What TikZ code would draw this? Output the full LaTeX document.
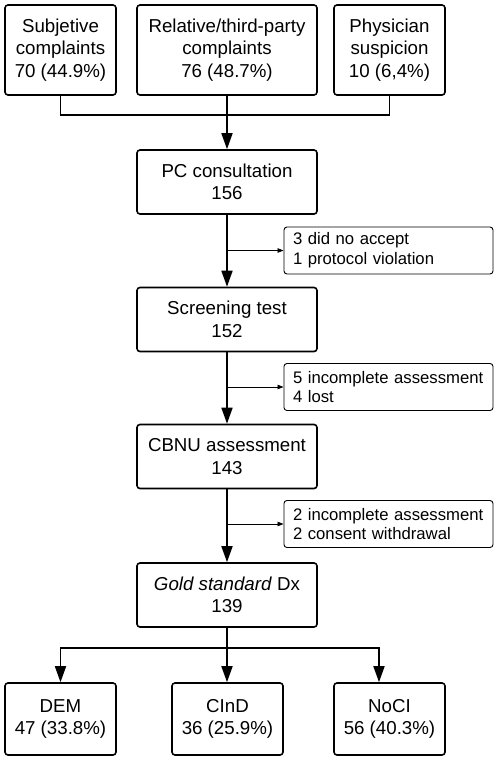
\documentclass[tikz,border=0pt]{standalone}
\usepackage{fontspec}
\setmainfont{Liberation Sans}
\usetikzlibrary{arrows.meta}

\begin{document}
\begin{tikzpicture}[x=1pt,y=-1pt,
	box/.style={draw, rounded corners=3pt, line width=1.6pt, align=center, inner sep=0pt,
		font=\fontsize{18.7}{22.5}\selectfont},
	exbox/.style={draw, rounded corners=3pt, line width=0.9pt, align=left, inner xsep=9pt, inner ysep=0pt,
		text width=191pt, minimum height=47pt, font=\fontsize{16.7}{19.8}\selectfont},
	arrow/.style={line width=1.7pt, -{Triangle[length=16pt,width=11pt]}},
	side/.style={line width=0.8pt, -{Triangle[length=6pt,width=4.5pt]}}]
\useasboundingbox (0,0) rectangle (498,761);
\node [box, minimum width=111pt, minimum height=90pt] (subj) at (60.5,50) {Subjetive\\complaints\\70 (44.9\%)};
\node [box, minimum width=180pt, minimum height=90pt] (rel) at (227,50) {Relative/third-party\\complaints\\76 (48.7\%)};
\node [box, minimum width=111pt, minimum height=90pt] (phys) at (389.5,50) {Physician\\suspicion\\10 (6,4\%)};
\node [box, minimum width=180pt, minimum height=64pt] (pc) at (227,182) {PC consultation\\156};
\node [box, minimum width=180pt, minimum height=64pt] (scr) at (227,319.5) {Screening test\\152};
\node [box, minimum width=180pt, minimum height=64pt] (cbnu) at (227,456.5) {CBNU assessment\\143};
\node [box, minimum width=180pt, minimum height=64pt] (gold) at (227,595) {\textit{Gold standard} Dx\\139};
\node [box, minimum width=111pt, minimum height=72pt] (dem) at (60.5,719) {DEM\\47 (33.8\%)};
\node [box, minimum width=111pt, minimum height=72pt] (cind) at (227.5,719) {CInD\\36 (25.9\%)};
\node [box, minimum width=111pt, minimum height=72pt] (noci) at (389.5,719) {NoCI\\56 (40.3\%)};
\node [exbox] (ex1) at (388.5,250.5) {3 did no accept\\1 protocol violation};
\node [exbox] (ex2) at (388.5,387) {5 incomplete assessment\\4 lost};
\node [exbox] (ex3) at (388.5,524) {2 incomplete assessment\\2 consent withdrawal};
\coordinate (join) at (227,115);
\coordinate (br) at (227,648);

\draw [line width=1.6pt] (subj.south) |- (join) -| (phys.south);
\draw [arrow] (rel.south) -- (pc.north);
\draw [arrow] (pc.south) -- (scr.north);
\draw [arrow] (scr.south) -- (cbnu.north);
\draw [arrow] (cbnu.south) -- (gold.north);
\draw [side] (pc.south |- ex1.west) -- (ex1.west);
\draw [side] (scr.south |- ex2.west) -- (ex2.west);
\draw [side] (cbnu.south |- ex3.west) -- (ex3.west);
\draw [arrow] (gold.south) -- (br) -- (gold.south |- cind.north);
\draw [arrow] (br) -| (dem.north);
\draw [arrow] (br) -| ([xshift=-10.5pt]noci.north);
\end{tikzpicture}
\end{document}
